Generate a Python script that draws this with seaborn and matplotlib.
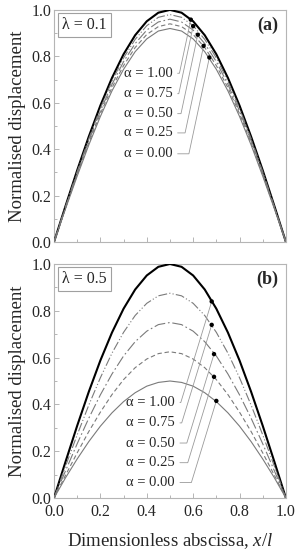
import numpy as np
import pandas as pd
import matplotlib
matplotlib.use("Agg")
import matplotlib.pyplot as plt
import seaborn as sns
from matplotlib.ticker import MultipleLocator

sns.set_theme(style="white")
plt.rcParams["font.family"] = ["Liberation Serif", "DejaVu Serif"]
plt.rcParams["mathtext.fontset"] = "custom"
plt.rcParams["mathtext.rm"] = "Liberation Serif"
plt.rcParams["mathtext.it"] = "Liberation Serif:italic"

# ---- data ----
x_vals = [0.00, 0.05, 0.10, 0.15, 0.20, 0.25, 0.30, 0.35, 0.40, 0.45, 0.50,
          0.55, 0.60, 0.65, 0.70, 0.75, 0.80, 0.85, 0.90, 0.95, 1.00]
alpha_labels = ["α = 1.00", "α = 0.75", "α = 0.50", "α = 0.25", "α = 0.00"]

# panel (a): lambda = 0.1
a_100 = [0, .156, .309, .454, .588, .707, .809, .891, .951, .988, 1.000, .988, .951, .891, .809, .707, .588, .454, .309, .156, 0]
a_075 = [0, .153, .303, .445, .576, .693, .793, .873, .932, .968, .980, .968, .932, .873, .793, .693, .576, .445, .303, .153, 0]
a_050 = [0, .150, .297, .436, .564, .679, .777, .855, .913, .948, .960, .948, .913, .855, .777, .679, .564, .436, .297, .150, 0]
a_025 = [0, .147, .290, .427, .553, .665, .760, .838, .894, .928, .940, .928, .894, .838, .760, .665, .553, .427, .290, .147, 0]
a_000 = [0, .144, .284, .418, .541, .651, .744, .820, .875, .909, .920, .909, .875, .820, .744, .651, .541, .418, .284, .144, 0]
# panel (b): lambda = 0.5
b_100 = [0, .156, .309, .454, .588, .707, .809, .891, .951, .988, 1.000, .988, .951, .891, .809, .707, .588, .454, .309, .156, 0]
b_075 = [0, .137, .270, .397, .514, .619, .708, .780, .832, .864, .875, .864, .832, .780, .708, .619, .514, .397, .270, .137, 0]
b_050 = [0, .117, .232, .341, .441, .530, .607, .668, .713, .741, .750, .741, .713, .668, .607, .530, .441, .341, .232, .117, 0]
b_025 = [0, .098, .193, .284, .367, .442, .506, .557, .594, .617, .625, .617, .594, .557, .506, .442, .367, .284, .193, .098, 0]
b_000 = [0, .087, .167, .241, .307, .364, .412, .450, .478, .494, .500, .494, .478, .450, .412, .364, .307, .241, .167, .087, 0]

# marked points
a_dot_x = [0.59, 0.60, 0.62, 0.645, 0.67]
a_dot_y = [0.958, 0.930, 0.893, 0.845, 0.795]
b_dot_x = [0.68, 0.68, 0.69, 0.69, 0.70]
b_dot_y = [0.840, 0.740, 0.615, 0.518, 0.415]
# label anchor positions (right edge x, centre y)
a_lab_x = 0.51
a_lab_y = [0.727, 0.639, 0.553, 0.470, 0.380]
b_lab_x = 0.52
b_lab_y = [0.408, 0.321, 0.235, 0.151, 0.066]

panels = [
    dict(series=[a_100, a_075, a_050, a_025, a_000], dx=a_dot_x, dy=a_dot_y,
         lx=a_lab_x, ly=a_lab_y, lam="λ = 0.1", tag="(a)", angB=78),
    dict(series=[b_100, b_075, b_050, b_025, b_000], dx=b_dot_x, dy=b_dot_y,
         lx=b_lab_x, ly=b_lab_y, lam="λ = 0.5", tag="(b)", angB=73),
]

styles = [
    dict(color="black", lw=1.5, ls="-"),
    dict(color="#7a7a7a", lw=0.8, ls=(0, (8, 2, 1, 2, 1, 2))),
    dict(color="#7a7a7a", lw=0.8, ls=(0, (10, 2.5, 1.5, 2.5))),
    dict(color="#7a7a7a", lw=0.8, ls=(0, (4, 2.5))),
    dict(color="#7a7a7a", lw=0.8, ls="-"),
]

fig = plt.figure(figsize=(3.0, 5.5), dpi=100)
ax_a = fig.add_axes([0.18, 0.56, 0.773, 0.422])
ax_b = fig.add_axes([0.18, 0.0945, 0.773, 0.4255])

spine_col = "#b5b5b5"
for ax, p in zip([ax_a, ax_b], panels):
    df = pd.DataFrame({"x": x_vals})
    for lab, ys in zip(alpha_labels, p["series"]):
        df[lab] = ys
    for lab, st in zip(alpha_labels, styles):
        sns.lineplot(data=df, x="x", y=lab, ax=ax, color=st["color"],
                     linewidth=st["lw"], linestyle=st["ls"], zorder=3)
    sns.scatterplot(x=p["dx"], y=p["dy"], ax=ax, color="black", s=10,
                    edgecolor="none", zorder=5)
    for lab, xd, yd, yl in zip(alpha_labels, p["dx"], p["dy"], p["ly"]):
        ax.annotate(lab, xy=(xd, yd), xytext=(p["lx"], yl),
                    ha="right", va="center", fontsize=10.5,
                    arrowprops=dict(arrowstyle="-", color="#9a9a9a", lw=0.6,
                                    shrinkA=1.5, shrinkB=1.5,
                                    connectionstyle=f"angle,angleA=0,angleB={p['angB']},rad=0"))
    ax.text(0.035, 0.935, p["lam"], transform=ax.transAxes, ha="left",
            va="center", fontsize=11.5,
            bbox=dict(boxstyle="square,pad=0.25", fc="white", ec="#a0a0a0", lw=0.8))
    ax.text(0.965, 0.935, p["tag"], transform=ax.transAxes, ha="right",
            va="center", fontsize=13, fontweight="bold")
    ax.set_xlim(0, 1)
    ax.set_ylim(0, 1)
    ax.xaxis.set_major_locator(MultipleLocator(0.2))
    ax.xaxis.set_minor_locator(MultipleLocator(0.1))
    ax.yaxis.set_major_locator(MultipleLocator(0.2))
    ax.yaxis.set_minor_locator(MultipleLocator(0.1))
    ax.xaxis.set_major_formatter(matplotlib.ticker.FormatStrFormatter("%.1f"))
    ax.yaxis.set_major_formatter(matplotlib.ticker.FormatStrFormatter("%.1f"))
    ax.tick_params(which="both", direction="in", color=spine_col, width=0.7,
                   labelsize=11.5, bottom=True, left=True, top=False, right=False)
    ax.tick_params(axis="y", pad=2)
    ax.tick_params(axis="x", pad=4)
    ax.tick_params(which="major", length=3.5)
    ax.tick_params(which="minor", length=2)
    for s in ax.spines.values():
        s.set_color(spine_col)
        s.set_linewidth(0.8)
    ax.set_ylabel("Normalised displacement", fontsize=13.5, labelpad=4)
    ax.set_xlabel("")

ax_a.tick_params(labelbottom=False)
ax_b.set_xlabel(r"Dimensionless abscissa, $x/l$", fontsize=13.5, labelpad=8)

fig.savefig("out.png", dpi=100)
